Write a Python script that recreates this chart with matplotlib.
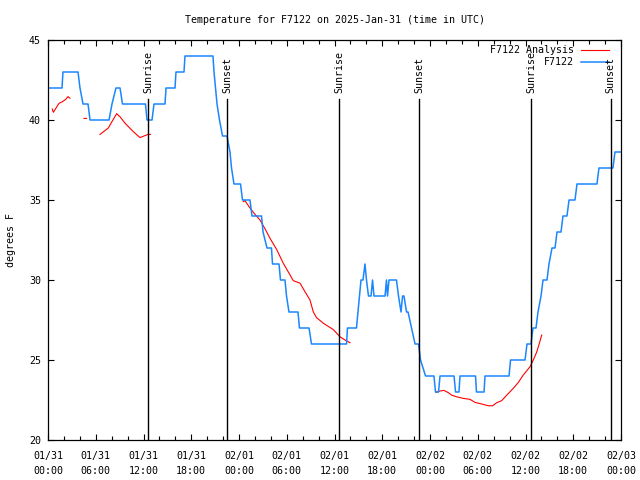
import matplotlib
matplotlib.use("Agg")
import matplotlib.pyplot as plt
import matplotlib.dates as mdates
import numpy as np
import pandas as pd

plt.rcParams['font.family'] = ['DejaVu Sans Mono']
plt.rcParams['font.size'] = 7.2

start = pd.Timestamp('2025-01-31 00:00')

# observed station temps (hours after start, deg F)
obs_hours = [0.0, 1.76, 1.88, 3.77, 4.02, 4.40, 5.03, 5.28, 7.67, 8.04, 8.54, 9.05, 9.36,
             12.25, 12.44, 13.07, 13.32, 14.70, 14.83, 15.96, 16.08, 17.09, 17.21, 20.73,
             20.86, 21.05, 21.24, 21.55, 21.93, 22.49, 22.87, 23.06, 23.37, 24.19, 24.44,
             25.38, 25.63, 26.83, 27.02, 27.52, 28.08, 28.21, 29.03, 29.21, 29.78, 29.97,
             30.28, 31.41, 31.60, 32.80, 33.11, 37.51, 37.63, 38.76, 38.95, 39.14, 39.33,
             39.58, 39.83, 40.02, 40.27, 40.59, 40.78, 40.96, 42.35, 42.53, 42.66, 42.85,
             43.79, 44.04, 44.36, 44.55, 44.73, 45.05, 45.24, 45.68, 46.12, 46.56, 46.81,
             47.44, 48.50, 48.69, 49.07, 49.26, 51.02, 51.21, 51.64, 51.77, 53.72, 53.84,
             54.79, 54.91, 57.93, 58.12, 59.94, 60.19, 60.69, 60.94, 61.32, 61.57, 61.95,
             62.20, 62.70, 62.95, 63.33, 63.71, 63.96, 64.46, 64.71, 65.21, 65.47, 66.22,
             66.47, 68.98, 69.23, 70.99, 71.24, 72.0]
obs_temps = [42, 42, 43, 43, 42, 41, 41, 40, 40, 41, 42, 42, 41,
             41, 40, 40, 41, 41, 42, 42, 43, 43, 44, 44,
             43, 42, 41, 40, 39, 39, 38, 37, 36, 36, 35,
             35, 34, 34, 33, 32, 32, 31, 31, 30, 30, 29,
             28, 28, 27, 27, 26, 26, 27, 27, 28, 29, 30,
             30, 31, 30, 29, 29, 30, 29, 29, 30, 29, 30,
             30, 29, 28, 29, 29, 28, 28, 27, 26, 26, 25,
             24, 24, 23, 23, 24, 24, 23, 23, 24, 24, 23,
             23, 24, 24, 25, 25, 26, 26, 27, 27, 28, 29,
             30, 30, 31, 32, 32, 33, 33, 34, 34, 35, 35,
             36, 36, 37, 37, 38, 38]

# analysis temps, NaN = gap
ana_hours = [0.54, 0.67, 1.38, 1.80, 2.22, 2.51, 2.76, np.nan,
             4.52, 4.84, np.nan,
             6.53, 7.58, 8.04, 8.63, 9.05, 9.68, 10.72, 11.56, 12.06, 12.57, 12.88, np.nan,
             24.54, 24.75, 25.38, 26.01, 26.64, 27.27, 27.90, 28.74, 29.57, 30.20, 30.82,
             31.67, 32.29, 32.92, 33.34, 33.74, 34.59, 35.85, 36.69, 37.32, 37.95, np.nan,
             48.75, 49.26, 49.76, 50.30, 50.73, 51.36, 52.19, 53.03, 53.66, 54.50, 55.33,
             55.88, 56.38, 57.01, 57.64, 58.47, 59.10, 59.72, 60.57, 60.98, 61.41, 61.74, 62.04]
ana_temps = [40.69, 40.48, 41.04, 41.14, 41.29, 41.46, 41.36, np.nan,
             40.1, 40.1, np.nan,
             39.1, 39.5, 39.9, 40.4, 40.2, 39.8, 39.27, 38.9, 39.0, 39.1, 39.1, np.nan,
             34.9, 34.96, 34.5, 34.1, 33.75, 33.2, 32.6, 31.9, 31.04, 30.5, 29.96,
             29.8, 29.27, 28.75, 28.0, 27.65, 27.3, 26.9, 26.45, 26.25, 26.08, np.nan,
             22.98, 23.06, 23.1, 22.96, 22.8, 22.7, 22.6, 22.54, 22.35, 22.25, 22.14,
             22.14, 22.33, 22.46, 22.8, 23.23, 23.6, 24.06, 24.58, 25.0, 25.5, 26.04, 26.56]

sunrise = ['2025-01-31 12:36', '2025-02-01 12:36', '2025-02-02 12:44']
sunset = ['2025-01-31 22:32', '2025-02-01 22:40', '2025-02-02 22:43']

def to_time(hours):
    return start + pd.to_timedelta(np.array(hours, dtype=float), unit='h')

fig = plt.figure(figsize=(6.4, 4.8), dpi=100)
ax = fig.add_axes([48/640, 40/480, 573/640, 400/480])

ax.plot(to_time(ana_hours), ana_temps, color='#ff0000', lw=0.8)
ax.plot(to_time(obs_hours), obs_temps, color='#1a86ff', lw=1.1)

for name, times in (('Sunrise', sunrise), ('Sunset', sunset)):
    for t in pd.to_datetime(times):
        ax.axvline(t, ymin=0, ymax=0.8525, color='black', lw=1.0)
        ax.text(t, 0.868, name, rotation=90, ha='center', va='bottom',
                transform=ax.get_xaxis_transform())

ax.set_xlim(start, start + pd.Timedelta(hours=72))
ax.set_ylim(20, 45)
ax.set_yticks(np.arange(20, 46, 5))
ax.xaxis.set_major_locator(mdates.HourLocator(byhour=range(0, 24, 6)))
ax.xaxis.set_minor_locator(mdates.HourLocator(interval=2))
ax.xaxis.set_major_formatter(mdates.DateFormatter('%m/%d\n%H:%M'))
ax.tick_params(which='both', direction='in', top=True, right=True, width=0.8)
ax.tick_params(which='major', length=4)
ax.tick_params(which='minor', length=3)
ax.tick_params(axis='y', pad=5)
ax.tick_params(axis='x', pad=8)
for lab in ax.get_xticklabels():
    lab.set_linespacing(1.6)
for s in ax.spines.values():
    s.set_linewidth(0.9)

# legend, gnuplot style
ax.text(0.918, 0.975, 'F7122 Analysis', ha='right', va='center', transform=ax.transAxes)
ax.plot([0.930, 0.979], [0.975, 0.975], color='#ff0000', lw=0.8, transform=ax.transAxes)
ax.text(0.918, 0.945, 'F7122', ha='right', va='center', transform=ax.transAxes)
ax.plot([0.930, 0.979], [0.945, 0.945], color='#1a86ff', lw=1.1, transform=ax.transAxes)

fig.text(335/640, 1 - 20/480, 'Temperature for F7122 on 2025-Jan-31 (time in UTC)',
         ha='center', va='center')
fig.text(11/640, 0.5, 'degrees F', rotation=90, ha='center', va='center')

fig.savefig('out.png', dpi=100)
